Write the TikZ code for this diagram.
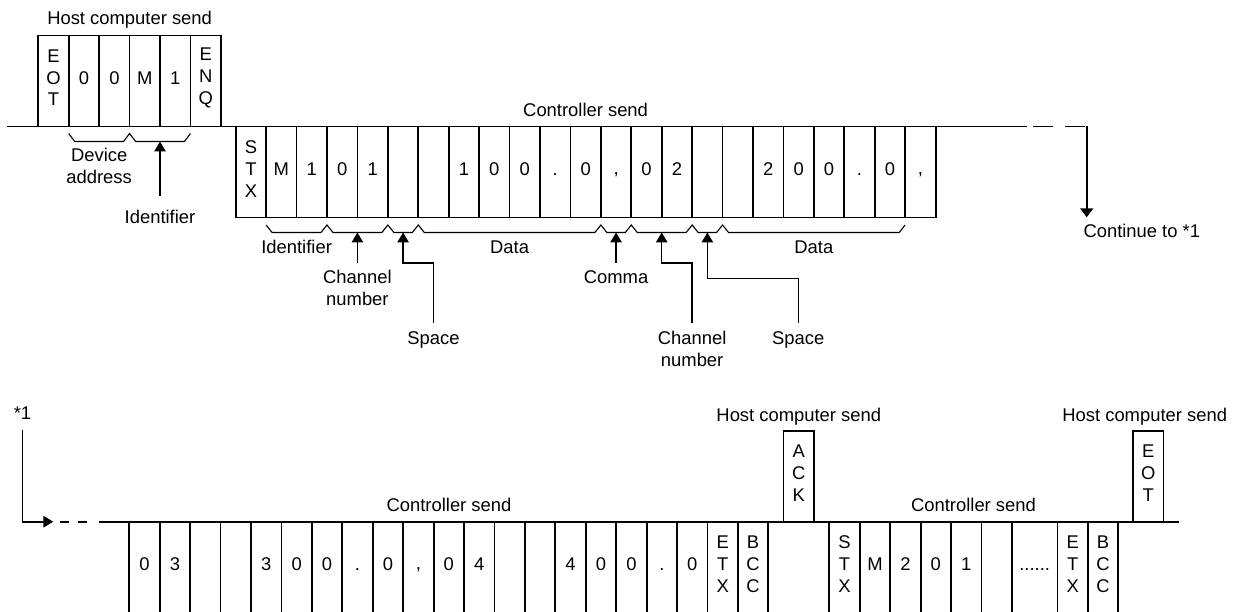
\documentclass[tikz,border=0pt]{standalone}
\usepackage{fontspec}
\setmainfont{Liberation Sans}
\usetikzlibrary{arrows.meta,calc}

\tikzset{
  frame/.style={draw, line width=1.8pt, inner sep=0pt, minimum height=91pt, minimum width=30.43pt},
  chr/.style={inner sep=0pt, align=center, font=\fontsize{18.4}{21.7}\selectfont,
    execute at begin node={\vphantom{0}}},
  lab/.style={inner sep=0pt, font=\fontsize{18.4}{21.7}\selectfont, text height=13.1pt, text depth=0pt},
  lab2/.style={inner sep=0pt, align=center, font=\fontsize{18.4}{21.7}\selectfont},
  wire/.style={line width=1.8pt},
  brace/.style={line width=1.1pt, line join=miter},
  ptr/.style={line width=1.4pt, -{Triangle[length=10pt,width=11.5pt]}},
}

% a row of character cells: name prefix, left x, centre y, contents
\newcommand\cellrow[4]{%
  \foreach \t [count=\i from 0] in {#4} {
    \node[frame] (#1\i) at ({#2+30.43*(\i+0.5)},#3) {};
    \node[chr] (#1t\i) at ([yshift=3pt]#1\i.center) {\t};
  }}

\begin{document}
\begin{tikzpicture}[x=1pt,y=-1pt]
\useasboundingbox (0,0) rectangle (1237,612);

% ---------------- first line of the exchange ----------------
\draw[wire] (7,126.5) -- (1027,126.5);
\draw[wire, dash pattern=on 20pt off 12pt, dash phase=26pt] (1027,126.5) -- (1086.7,126.5);
\coordinate (turnA) at (1086.7,126.5);
\coordinate (contTip) at (1086.7,217.3);
\draw[wire, -{Triangle[length=9pt,width=13pt]}] (turnA) -- (contTip);
\node[lab, anchor=west] (cont) at (1083.3,230.5) {Continue to *1};

% host computer frame
\cellrow{h}{38.3}{81}{{E\\O\\T},0,0,M,1,{E\\N\\Q}}
\node[lab] (hs1) at (129.6,18) {Host computer send};

% controller frame
\cellrow{c}{235.7}{172}{{S\\T\\X},M,1,0,1,{},{},1,0,0,{.},0,{,},0,2,{},{},2,0,0,{.},0,{,}}
\node[lab] (cs1) at (585.6,109.5) {Controller send};

% field brackets under the host frame
\draw[brace] (68.73,133.5) -- (74.73,141.5) -- (123.59,141.5) -- (129.59,133.5)
  -- (135.59,141.5) -- (184.45,141.5) -- (190.45,133.5);
\coordinate (tId) at (160.02,141.5);
\node[lab2] (dev) at (99.16,165.9) {Device\\address};
\node[lab] (id1) at (160.02,216.7) {Identifier};
\draw[ptr] ([yshift=14pt]id1.north) -- (tId);

% field brackets under the controller frame
\draw[brace] (266.13,225) -- (272.13,232.5)
  \foreach \k in {3,5,6,12,13,15,16} {
    -- ({235.7+30.43*\k-6},232.5) -- ({235.7+30.43*\k},225) -- ({235.7+30.43*\k+6},232.5) }
  -- (899.16,232.5) -- (905.16,225);
\coordinate (tCh1) at (357.42,232.5);
\coordinate (tSp1) at (403.07,232.5);
\coordinate (tCm) at (616.08,232.5);
\coordinate (tCh2) at (661.72,232.5);
\coordinate (tSp2) at (707.37,232.5);

\node[lab] (id2) at (296.6,246.7) {Identifier};
\node[lab] (dt1) at (509.57,246.7) {Data};
\node[lab] (dt2) at (813.87,246.7) {Data};
\node[lab2] (ch1) at (357.42,287.6) {Channel\\number};
\node[lab] (sp1) at (433.5,338) {Space};
\node[lab] (cm) at (616.08,276.7) {Comma};
\node[lab2] (ch2) at (692.15,348.9) {Channel\\number};
\node[lab] (sp2) at (798.3,338) {Space};

\draw[ptr] ([yshift=7pt]ch1.north) -- (tCh1);
\draw[ptr] ([yshift=8.5pt]sp1.north) |- ([yshift=-30.5pt]tSp1) -- (tSp1);
\draw[ptr] ([yshift=7pt]cm.north) -- (tCm);
\draw[ptr] ([yshift=8.4pt]ch2.north) |- ([yshift=-30.5pt]tCh2) -- (tCh2);
\draw[ptr] ([yshift=8.5pt]sp2.north) |- ([yshift=-45.8pt]tSp2) -- (tSp2);

% ---------------- continuation line ----------------
\node[lab] (star) at (22.5,413.3) {*1};
\coordinate (sTip) at (53.3,521.7);
\draw[wire, -{Triangle[length=10pt,width=11.5pt]}] ([yshift=-10pt]star.south) |- (sTip);
\draw[wire, dash pattern=on 9pt off 9pt, dash phase=11pt] (sTip) -- (88,521.7);
\draw[wire] (99.3,521.7) -- (1179.3,521.7);

% controller frame, continued
\cellrow{b}{129.3}{567.2}{0,3,{},{},3,0,0,{.},0,{,},0,4,{},{},4,0,0,{.},0,{E\\T\\X},{B\\C\\C}}
\node[lab] (cs2) at (449,505) {Controller send};

% acknowledgement from the host
\node[frame] (ack) at (798.8,476.2) {};
\node[chr] (ackt) at ([yshift=3pt]ack.center) {A\\C\\K};
\node[lab] (hs2) at (798.8,415) {Host computer send};

% next controller frame
\cellrow{d}{829.3}{567.2}{{S\\T\\X},M,2,0,1,{}}
\node[frame, minimum width=45.65pt] (d6) at (1034.7,567.2) {};
\node[chr] (dt6) at ([yshift=3pt]d6.center) {......};
\node[frame] (d7) at (1072.7,567.2) {};
\node[chr] (dt7) at ([yshift=3pt]d7.center) {E\\T\\X};
\node[frame] (d8) at (1103.1,567.2) {};
\node[chr] (dt8) at ([yshift=3pt]d8.center) {B\\C\\C};
\node[lab] (cs3) at (973.5,505) {Controller send};

% end of transmission from the host
\node[frame] (eot) at (1148.3,476.2) {};
\node[chr] (eott) at ([yshift=3pt]eot.center) {E\\O\\T};
\node[lab] (hs3) at (1144.7,415) {Host computer send};
\end{tikzpicture}
\end{document}
